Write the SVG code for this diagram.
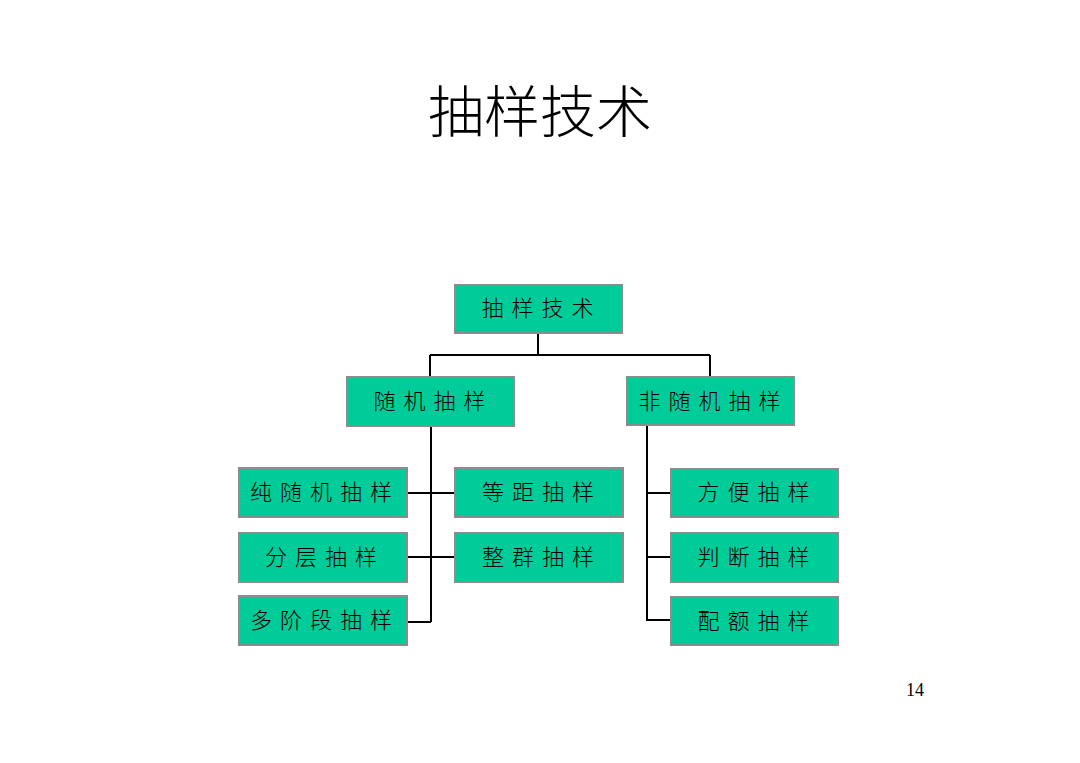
<svg xmlns="http://www.w3.org/2000/svg" width="1080" height="763" viewBox="0 0 1080 763">
<style>
.box{fill:#00CC99;stroke:#8c8c8c;stroke-width:2}
.lbl{font-family:"Liberation Serif","Noto Sans CJK SC",serif;font-size:22px;font-weight:300;letter-spacing:8px;fill:#000;text-anchor:middle}
.conn{stroke:#000;stroke-width:2;fill:none}
</style>
<rect width="1080" height="763" fill="#fff"/>
<text x="540" y="132" font-family="Liberation Serif,'Noto Sans CJK SC',serif" font-size="56" font-weight="300" text-anchor="middle" fill="#000">抽样技术</text>
<text x="915" y="696" font-family="Liberation Serif,serif" font-size="18" text-anchor="middle" fill="#000">14</text>
<g id="connectors">
<path class="conn" d="M538 333V355M430 355H710M430 355V377M710 355V377"/>
<path class="conn" d="M431 426V622M407 493H455M407 557H455M407 622H431"/>
<path class="conn" d="M647 425V620H671M647 493H671M647 557H671"/>
</g>
<g id="root"><rect class="box" x="455" y="285" width="167" height="48"/><text class="lbl" x="541.5" y="316">抽样技术</text></g>
<g id="random"><rect class="box" x="347" y="377" width="167" height="49"/><text class="lbl" x="433.5" y="409">随机抽样</text></g>
<g id="nonrandom"><rect class="box" x="627" y="377" width="167" height="48"/><text class="lbl" x="713.5" y="409">非随机抽样</text></g>
<g id="simple"><rect class="box" x="239" y="468" width="168" height="49"/><text class="lbl" x="325" y="500">纯随机抽样</text></g>
<g id="stratified"><rect class="box" x="239" y="533" width="168" height="49"/><text class="lbl" x="325" y="565">分层抽样</text></g>
<g id="multistage"><rect class="box" x="239" y="596" width="168" height="49"/><text class="lbl" x="325" y="628">多阶段抽样</text></g>
<g id="systematic"><rect class="box" x="455" y="468" width="168" height="49"/><text class="lbl" x="542" y="500">等距抽样</text></g>
<g id="cluster"><rect class="box" x="455" y="533" width="168" height="49"/><text class="lbl" x="542" y="565">整群抽样</text></g>
<g id="convenience"><rect class="box" x="671" y="469" width="167" height="48"/><text class="lbl" x="757.5" y="500">方便抽样</text></g>
<g id="judgment"><rect class="box" x="671" y="533" width="167" height="49"/><text class="lbl" x="757.5" y="565">判断抽样</text></g>
<g id="quota"><rect class="box" x="671" y="597" width="167" height="48"/><text class="lbl" x="757.5" y="629">配额抽样</text></g>
</svg>
